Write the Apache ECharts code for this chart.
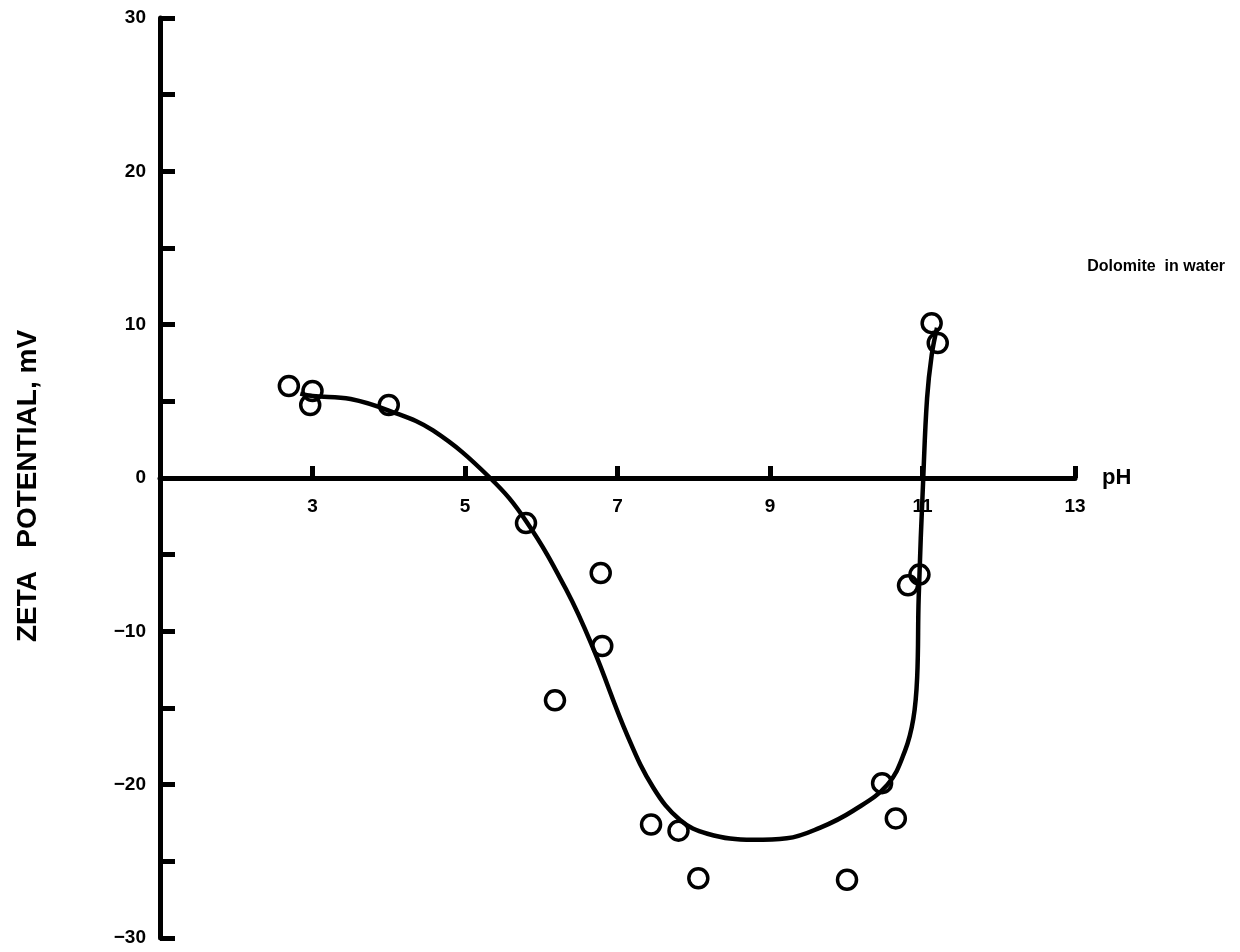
<!DOCTYPE html>
<html>
<head>
<meta charset="utf-8">
<title>Dolomite in water</title>
<script src="https://cdn.jsdelivr.net/npm/echarts@6/dist/echarts.min.js"></script>
<style>
  html, body { margin: 0; padding: 0; background: #fff; }
  #chart { width: 1240px; height: 952px; }
</style>
</head>
<body>
<div id="chart"></div>
<script>
// Measured points: pH and zeta potential (mV)
const measuredPH   = [2.69, 2.97, 3.00, 4.00, 5.80, 6.18, 6.78, 6.80, 7.44, 7.80, 8.06, 10.01, 10.47, 10.65, 10.81, 10.96, 11.12, 11.20];
const measuredZeta = [6.0, 4.76, 5.67, 4.76, -2.94, -14.5, -6.2, -10.96, -22.6, -23.0, -26.1, -26.2, -19.9, -22.2, -7.0, -6.3, 10.1, 8.8];

// Hand-fitted trend curve through the measurements
const curvePH   = [2.84, 3.0, 3.5, 4.0, 4.58, 5.33, 5.8, 6.34, 6.68, 7.13, 7.47, 7.82, 8.18, 8.78, 9.22, 9.66, 10.09, 10.54, 10.77, 10.88, 10.93, 10.95, 11.01, 11.06, 11.12, 11.19];
const curveZeta = [5.5, 5.35, 5.15, 4.4, 3.1, 0, -2.8, -7.4, -11.1, -16.8, -20.2, -22.3, -23.2, -23.6, -23.5, -22.8, -21.7, -20.0, -17.8, -15.7, -13.0, -7.8, 0, 5.2, 8.0, 9.8];

// Labelled ticks on both axes
const phTicks = [3, 5, 7, 9, 11, 13];
const zetaLabelled = [-30, -20, -10, 0, 10, 20, 30];

const FONT = '"Liberation Sans", Arial, Helvetica, sans-serif';
const INK = '#000';

const chart = echarts.init(document.getElementById('chart'), null, { renderer: 'canvas' });

chart.setOption({
  backgroundColor: '#fff',
  animation: false,
  title: {
    text: 'Dolomite  in water',
    right: 10,
    top: 254,
    textStyle: { fontFamily: FONT, fontWeight: 'bold', fontSize: 16, color: INK }
  },
  grid: { left: 160, right: 165, top: 18, bottom: 14 },
  xAxis: {
    type: 'value',
    min: 1,
    max: 13,
    interval: 2,
    name: 'pH',
    nameLocation: 'end',
    nameGap: 27,
    nameTextStyle: { fontFamily: FONT, fontWeight: 'bold', fontSize: 22, color: INK, verticalAlign: 'middle', padding: [0, 0, 16, 0] },
    splitLine: { show: false },
    axisLine: { onZero: true, lineStyle: { color: INK, width: 5 } },
    axisTick: { inside: true, length: 12, lineStyle: { color: INK, width: 5 } },
    // tick numbers are drawn beside the zero line by the helper series below
    axisLabel: { show: false }
  },
  yAxis: {
    type: 'value',
    min: -30,
    max: 30,
    interval: 5,
    name: 'ZETA   POTENTIAL, mV',
    nameLocation: 'middle',
    nameGap: 118,
    nameRotate: 90,
    nameTextStyle: { fontFamily: FONT, fontWeight: 'bold', fontSize: 28, color: INK, padding: [0, 16, 0, 0] },
    splitLine: { show: false },
    axisLine: { onZero: false, lineStyle: { color: INK, width: 5 } },
    axisTick: { inside: true, length: 15, lineStyle: { color: INK, width: 5 } },
    axisLabel: {
      margin: 14,
      fontFamily: FONT, fontWeight: 'bold', fontSize: 19, color: INK,
      formatter: v => (zetaLabelled.includes(v) ? (v < 0 ? '\u2212' + Math.abs(v) : String(v)) : '')
    }
  },
  series: [
    {
      name: 'trend',
      type: 'line',
      data: curvePH.map((x, i) => [x, curveZeta[i]]),
      smooth: 0.4,
      showSymbol: false,
      lineStyle: { color: INK, width: 4.5 },
      z: 2
    },
    {
      name: 'measured',
      type: 'scatter',
      data: measuredPH.map((x, i) => [x, measuredZeta[i]]),
      symbol: 'circle',
      symbolSize: 19,
      itemStyle: { color: 'rgba(0,0,0,0)', borderColor: INK, borderWidth: 3.5, opacity: 1 },
      z: 3
    },
    {
      name: 'phTickLabels',
      type: 'scatter',
      data: phTicks.map(v => [v, 0]),
      symbolSize: 0,
      silent: true,
      itemStyle: { opacity: 1 },
      label: {
        show: true,
        position: 'bottom',
        distance: 19,
        opacity: 1,
        formatter: p => String(p.value[0]),
        fontFamily: FONT, fontWeight: 'bold', fontSize: 19, color: INK
      },
      z: 1
    }
  ]
});
</script>
</body>
</html>
